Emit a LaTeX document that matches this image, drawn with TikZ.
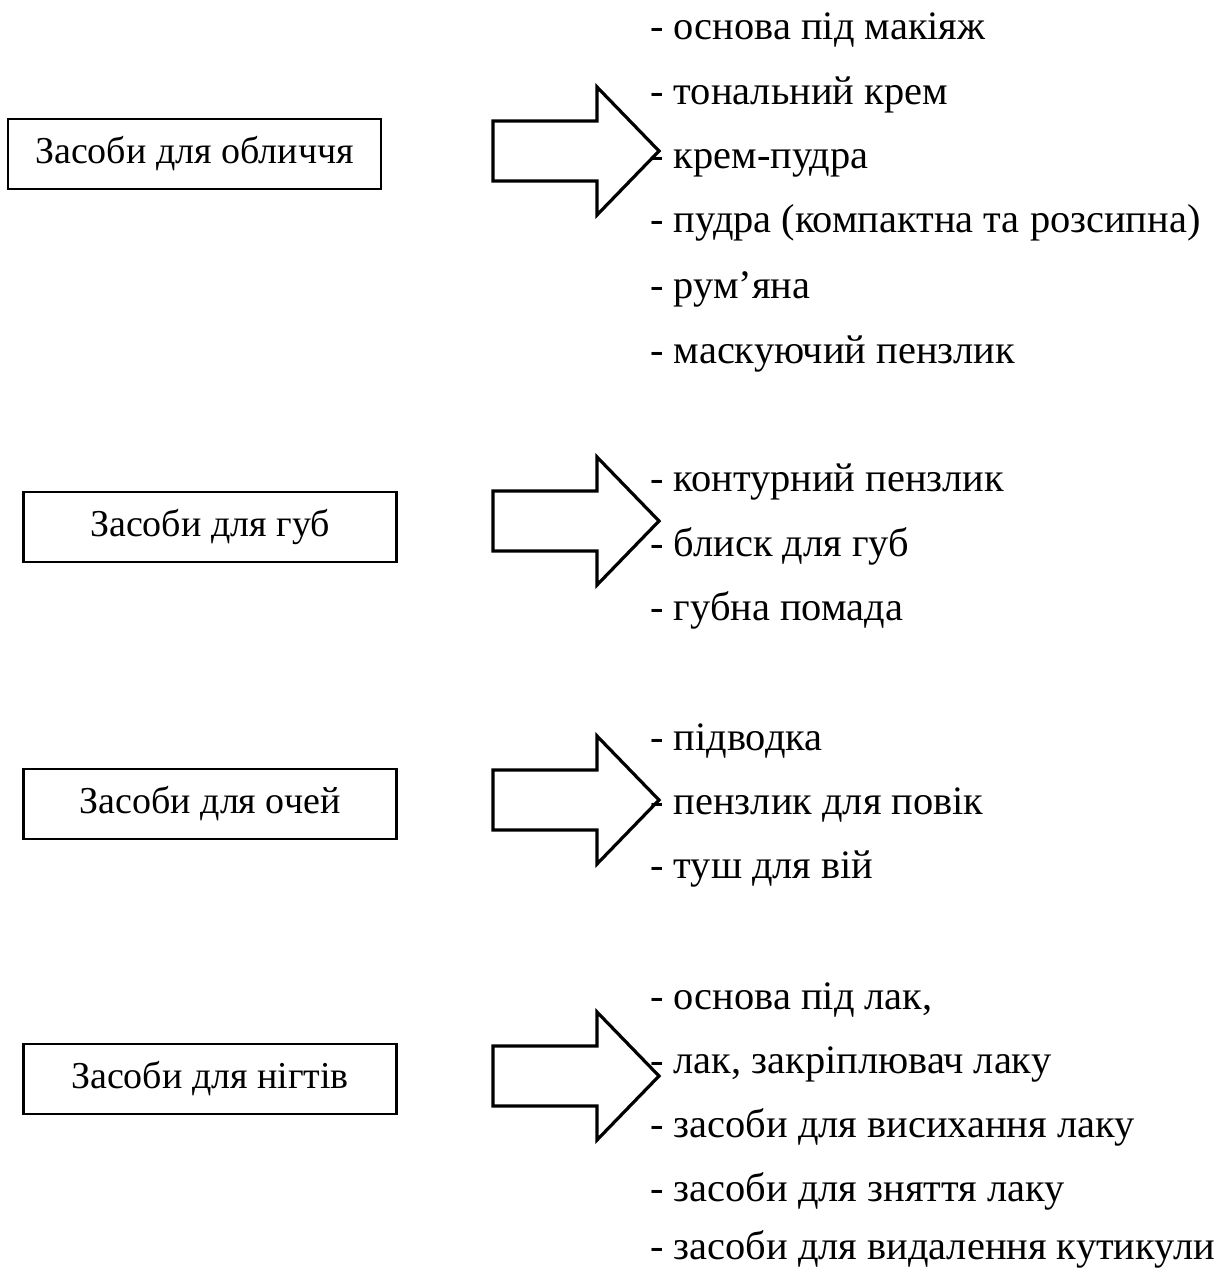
\documentclass[tikz,border=0pt]{standalone}
\usepackage{fontspec}
\setmainfont{Liberation Serif}
\tikzset{
  x=1pt, y=-1pt,
  catbox/.style={draw, line width=2.2pt, minimum width=373pt, minimum height=70pt, inner sep=0pt, font=\fontsize{38}{44}\selectfont},
  item/.style={anchor=base west, inner sep=0pt, font=\fontsize{40.4}{48}\selectfont},
  blockarrow/.style={draw, line width=3.2pt, line join=miter, fill=white}
}
\newcommand{\blockarr}[2]{%
  \draw[blockarrow] (#1-166,#2-30) -- (#1-62,#2-30) -- (#1-62,#2-64) -- (#1,#2) -- (#1-62,#2+64) -- (#1-62,#2+30) -- (#1-166,#2+30) -- cycle;}
\begin{document}
\begin{tikzpicture}
\useasboundingbox (0,0) rectangle (1216,1268);
% category boxes
\node[catbox] (face) at (194.5,154) {Засоби для обличчя};
\node[catbox] (lips) at (210,527) {Засоби для губ};
\node[catbox] (eyes) at (210,804) {Засоби для очей};
\node[catbox] (nails) at (210,1079) {Засоби для нігтів};
% block arrows
\blockarr{659}{151}
\blockarr{659}{521}
\blockarr{659}{800}
\blockarr{659}{1076}
% lists
\node[item] (f1) at (650,40) {- основа під макіяж};
\node[item] (f2) at (650,105) {- тональний крем};
\node[item] (f3) at (650,169) {- крем-пудра};
\node[item] (f4) at (650,233) {- пудра (компактна та розсипна)};
\node[item] (f5) at (650,298) {- рум’яна};
\node[item] (f6) at (650,363) {- маскуючий пензлик};
\node[item] (l1) at (650,491) {- контурний пензлик};
\node[item] (l2) at (650,556) {- блиск для губ};
\node[item] (l3) at (650,620) {- губна помада};
\node[item] (e1) at (650,750) {- підводка};
\node[item] (e2) at (650,814) {- пензлик для повік};
\node[item] (e3) at (650,878) {- туш для вій};
\node[item] (n1) at (650,1009) {- основа під лак,};
\node[item] (n2) at (650,1073) {- лак, закріплювач лаку};
\node[item] (n3) at (650,1137) {- засоби для висихання лаку};
\node[item] (n4) at (650,1201) {- засоби для зняття лаку};
\node[item] (n5) at (650,1259) {- засоби для видалення кутикули};
\end{tikzpicture}
\end{document}
